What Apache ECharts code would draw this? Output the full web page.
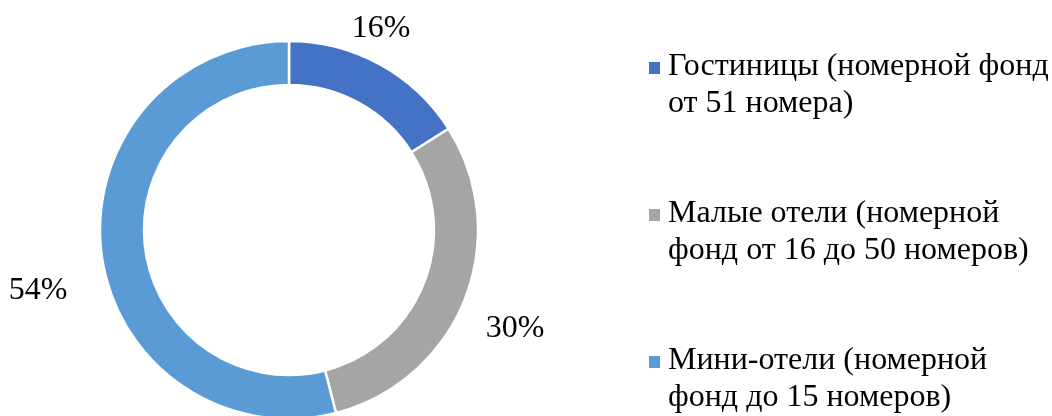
<!DOCTYPE html>
<html>
<head>
<meta charset="utf-8">
<script src="https://cdn.jsdelivr.net/npm/echarts@6/dist/echarts.min.js"></script>
<style>
  html, body { margin: 0; padding: 0; background: #fff; }
  #chart { width: 1052px; height: 416px; }
</style>
</head>
<body>
<div id="chart"></div>
<script>
// data
const categories = [
  "Гостиницы (номерной фонд\nот 51 номера)",
  "Малые отели (номерной\nфонд от 16 до 50 номеров)",
  "Мини-отели (номерной\nфонд до 15 номеров)"
];
const shares = [16, 30, 54];
const sliceColors = ["#4472C4", "#A5A5A5", "#5B9BD5"];

// where Excel put each percent label (centre of text)
const labelSpots = [[381, 29], [515, 329], [38, 291]];

const font = "'Liberation Serif', 'Times New Roman', serif";

const chart = echarts.init(document.getElementById("chart"), null, { renderer: "canvas" });

const option = {
  backgroundColor: "#ffffff",
  animation: false,
  legend: {
    orient: "vertical",
    left: 649,
    top: 48,
    padding: 0,
    itemWidth: 14,
    itemHeight: 74,
    itemGap: 73,
    itemStyle: { borderWidth: 0 },
    // square sits by the first text line; the lone points only widen the box
    icon: "path://M0,14h11v12h-11z M0,0 M14,74",
    textStyle: {
      fontFamily: font,
      fontSize: 32,
      lineHeight: 37,
      color: "#000"
    },
    data: categories
  },
  series: [
    {
      type: "pie",
      center: [289, 230],
      radius: [145, 189],
      startAngle: 90,
      clockwise: true,
      avoidLabelOverlap: false,
      itemStyle: {
        borderColor: "#fff",
        borderWidth: 2.5
      },
      label: {
        show: true,
        formatter: "{d}%",
        fontFamily: font,
        fontSize: 32,
        color: "#000"
      },
      labelLine: { show: false },
      labelLayout: function (params) {
        const p = labelSpots[params.dataIndex];
        return { x: p[0], y: p[1], align: "center", verticalAlign: "middle" };
      },
      emphasis: { disabled: true },
      data: categories.map((name, i) => ({
        name: name,
        value: shares[i],
        itemStyle: { color: sliceColors[i] }
      }))
    }
  ]
};

chart.setOption(option);
</script>
</body>
</html>
